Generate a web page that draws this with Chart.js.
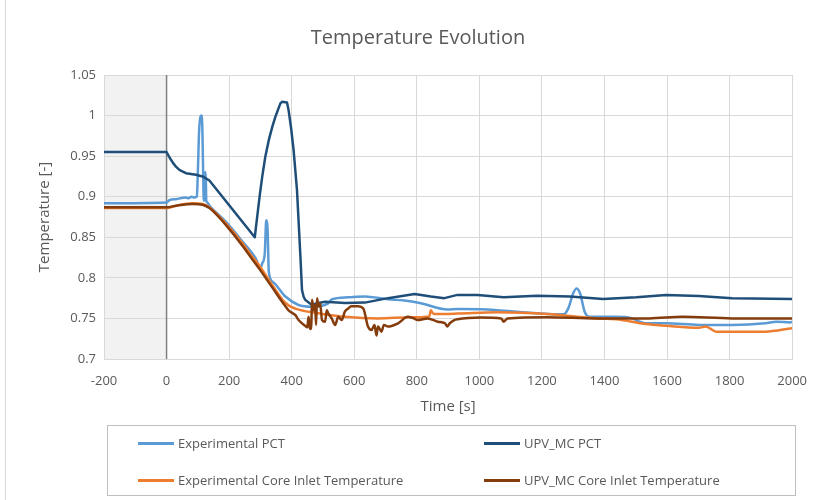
<!DOCTYPE html>
<html>
<head>
<meta charset="utf-8">
<script src="https://cdn.jsdelivr.net/npm/chart.js@4.4.0/dist/chart.umd.min.js"></script>
<style>
  body { margin: 0; background: #fff; font-family: "Open Sans", sans-serif; }
  #wrap { position: relative; width: 821px; height: 500px; }
  #frame { position: absolute; left: 5px; top: 0; width: 0; height: 500px; border-left: 1px solid #d9d9d9; }
  #legend { position: absolute; left: 107px; top: 425px; width: 687px; height: 69px; border: 1px solid #bfbfbf; }
  .item { position: absolute; font-size: 13px; color: #595959; white-space: nowrap; line-height: 16px; }
  .item .line { display: inline-block; width: 36px; height: 3px; vertical-align: middle; margin-right: 4px; margin-top: -2px; }
</style>
</head>
<body>
<div id="wrap">
  <canvas id="myChart" width="821" height="500"></canvas>
  <div id="frame"></div>
  <div id="legend"></div>
</div>
<script>
// tick labels
var xTicks = [-200, 0, 200, 400, 600, 800, 1000, 1200, 1400, 1600, 1800, 2000];
var yTicks = [0.7, 0.75, 0.8, 0.85, 0.9, 0.95, 1, 1.05];

// Experimental PCT
var expPctTime = [-200, 0, 10, 30, 62, 70, 80, 89, 97, 100, 104, 108, 111, 114, 117, 119, 121, 123, 125, 127, 130, 137, 190, 242, 285, 300, 306, 314, 318, 320, 323, 327, 340, 380, 422, 464, 517, 528, 580, 634, 708, 760, 813, 898, 930, 1025, 1162, 1269, 1285, 1300, 1311, 1322, 1337, 1352, 1438, 1480, 1533, 1597, 1702, 1808, 1914, 1950, 1994, 2000];
var expPctTemp = [0.892, 0.893, 0.896, 0.897, 0.899, 0.898, 0.9, 0.899, 0.9, 0.93, 0.98, 0.998, 1.0, 0.99, 0.93, 0.895, 0.9, 0.93, 0.93, 0.895, 0.893, 0.889, 0.869, 0.845, 0.824, 0.812, 0.818, 0.83, 0.868, 0.871, 0.86, 0.807, 0.795, 0.777, 0.7666, 0.7645, 0.7686, 0.7735, 0.776, 0.777, 0.7735, 0.772, 0.7686, 0.761, 0.7616, 0.761, 0.757, 0.755, 0.763, 0.781, 0.787, 0.781, 0.758, 0.752, 0.752, 0.751, 0.744, 0.744, 0.742, 0.742, 0.744, 0.746, 0.745, 0.746];

// UPV_MC PCT
var upvPctTime = [-200, 0, 10, 20, 30, 41, 52, 62, 78, 94, 115, 137, 282, 290, 298, 306, 316, 327, 338, 348, 357, 364, 369, 385, 390, 398, 406, 417, 428, 433, 438, 443, 463, 486, 507, 570, 634, 708, 793, 845, 888, 930, 994, 1078, 1184, 1289, 1396, 1502, 1597, 1702, 1808, 2000];
var upvPctTemp = [0.955, 0.955, 0.948, 0.942, 0.937, 0.933, 0.931, 0.929, 0.928, 0.927, 0.925, 0.92, 0.85, 0.876, 0.902, 0.925, 0.95, 0.97, 0.986, 0.9986, 1.008, 1.015, 1.017, 1.016, 1.007, 0.985, 0.958, 0.908, 0.826, 0.785, 0.777, 0.773, 0.767, 0.769, 0.7706, 0.769, 0.7695, 0.775, 0.78, 0.777, 0.775, 0.779, 0.779, 0.776, 0.778, 0.777, 0.774, 0.776, 0.779, 0.7776, 0.775, 0.774];

// Experimental Core Inlet Temperature
var expInletTime = [-200, 0, 31, 84, 115, 137, 152, 190, 242, 274, 295, 340, 380, 412, 443, 486, 570, 676, 781, 840, 845, 850, 856, 930, 1057, 1216, 1375, 1438, 1533, 1597, 1702, 1724, 1740, 1756, 1914, 2000];
var expInletTemp = [0.886, 0.886, 0.889, 0.892, 0.891, 0.887, 0.882, 0.867, 0.843, 0.826, 0.816, 0.79, 0.769, 0.762, 0.759, 0.7563, 0.752, 0.75, 0.7514, 0.7525, 0.76, 0.757, 0.7555, 0.756, 0.7575, 0.7555, 0.75, 0.749, 0.743, 0.741, 0.7386, 0.74, 0.737, 0.7337, 0.7337, 0.738];

// UPV_MC Core Inlet Temperature
var upvInletTime = [-200, 0, 31, 84, 115, 137, 152, 190, 242, 274, 295, 340, 380, 390, 412, 422, 443, 450, 454, 457, 460, 463, 465, 470, 475, 478, 481, 486, 491, 497, 507, 512, 517, 528, 539, 549, 560, 570, 580, 591, 613, 629, 644, 655, 665, 671, 676, 687, 695, 708, 740, 771, 790, 803, 835, 867, 890, 898, 905, 920, 930, 1005, 1070, 1078, 1090, 1216, 1375, 1480, 1543, 1650, 1808, 2000];
var upvInletTemp = [0.887, 0.887, 0.889, 0.891, 0.89, 0.886, 0.881, 0.865, 0.84, 0.823, 0.812, 0.787, 0.765, 0.76, 0.754, 0.748, 0.741, 0.739, 0.752, 0.74, 0.737, 0.745, 0.773, 0.76, 0.7665, 0.742, 0.775, 0.765, 0.7685, 0.748, 0.746, 0.76, 0.7563, 0.75, 0.742, 0.752, 0.748, 0.7583, 0.762, 0.765, 0.765, 0.7623, 0.74, 0.7357, 0.742, 0.729, 0.74, 0.7337, 0.742, 0.74, 0.744, 0.752, 0.75, 0.748, 0.75, 0.746, 0.744, 0.74, 0.744, 0.748, 0.749, 0.751, 0.75, 0.746, 0.75, 0.7514, 0.75, 0.75, 0.75, 0.752, 0.75, 0.75];

function pairs(t, v) {
  var out = [];
  for (var i = 0; i < t.length; i++) out.push({ x: t[i], y: v[i] });
  return out;
}

// grey box before t=0 and the dark line at t=0
var shadePlugin = {
  id: 'shade',
  beforeDraw: function (chart) {
    var ctx = chart.ctx, a = chart.chartArea, xs = chart.scales.x;
    ctx.save();
    ctx.fillStyle = '#f2f2f2';
    ctx.fillRect(xs.getPixelForValue(-200), a.top, xs.getPixelForValue(0) - xs.getPixelForValue(-200), a.bottom - a.top);
    ctx.restore();
  },
  beforeDatasetsDraw: function (chart) {
    var ctx = chart.ctx, a = chart.chartArea, x0 = chart.scales.x.getPixelForValue(0);
    ctx.save();
    ctx.strokeStyle = '#808080';
    ctx.lineWidth = 1.5;
    ctx.beginPath();
    ctx.moveTo(x0, a.top);
    ctx.lineTo(x0, a.bottom);
    ctx.stroke();
    ctx.restore();
  }
};

var font = "'Open Sans', sans-serif";
var ctx = document.getElementById("myChart").getContext("2d");
var myChart = new Chart(ctx, {
  type: "line",
  data: {
    datasets: [
      { label: "Experimental PCT", data: pairs(expPctTime, expPctTemp), borderColor: "#5B9BD5", order: 4 },
      { label: "UPV_MC PCT", data: pairs(upvPctTime, upvPctTemp), borderColor: "#1F4E79", order: 3, cubicInterpolationMode: "default", tension: 0 },
      { label: "Experimental Core Inlet Temperature", data: pairs(expInletTime, expInletTemp), borderColor: "#ED7D31", order: 2 },
      { label: "UPV_MC Core Inlet Temperature", data: pairs(upvInletTime, upvInletTemp), borderColor: "#843C0C", order: 1 }
    ]
  },
  options: {
    responsive: false,
    animation: false,
    layout: { padding: { left: 36, right: 21, top: 0, bottom: 81 } },
    elements: {
      point: { radius: 0 },
      line: { borderWidth: 2.5, cubicInterpolationMode: "monotone", fill: false, borderJoinStyle: "round" }
    },
    plugins: {
      legend: { display: false },
      tooltip: { enabled: false },
      title: {
        display: true,
        text: "Temperature Evolution",
        color: "#595959",
        font: { family: font, size: 20, weight: "normal" },
        padding: { top: 26, bottom: 25 }
      }
    },
    scales: {
      x: {
        type: "linear",
        min: -200,
        max: 2000,
        afterBuildTicks: function (s) { s.ticks = xTicks.map(function (v) { return { value: v }; }); },
        afterFit: function (s) { s.height = 60; },
        grid: { color: "#d9d9d9", drawTicks: false },
        border: { color: "#d9d9d9" },
        ticks: {
          color: "#595959", padding: 14, font: { family: font, size: 13 }, maxRotation: 0,
          callback: function (v) { return String(v); }
        },
        title: { display: true, text: "Time [s]", color: "#595959", font: { family: font, size: 15 }, padding: { bottom: 3 } }
      },
      y: {
        min: 0.7,
        max: 1.05,
        afterBuildTicks: function (s) { s.ticks = yTicks.map(function (v) { return { value: v }; }); },
        afterFit: function (s) { s.width = 68; },
        grid: { color: "#d9d9d9", drawTicks: false },
        border: { color: "#d9d9d9" },
        ticks: {
          color: "#595959", padding: 8, font: { family: font, size: 13 },
          callback: function (v) { return String(+v.toFixed(2)); }
        },
        title: { display: true, text: "Temperature [-]", color: "#595959", font: { family: font, size: 15 }, padding: { top: 0 } }
      }
    }
  },
  plugins: [shadePlugin]
});

// legend box in two columns, like the original
var legendPos = [[30, 9], [376, 9], [30, 46], [376, 46]];
var legendDiv = document.getElementById("legend");
myChart.data.datasets.forEach(function (ds, i) {
  var item = document.createElement("div");
  item.className = "item";
  item.style.left = legendPos[i][0] + "px";
  item.style.top = legendPos[i][1] + "px";
  var line = document.createElement("span");
  line.className = "line";
  line.style.backgroundColor = ds.borderColor;
  item.appendChild(line);
  item.appendChild(document.createTextNode(ds.label));
  legendDiv.appendChild(item);
});
</script>
</body>
</html>
